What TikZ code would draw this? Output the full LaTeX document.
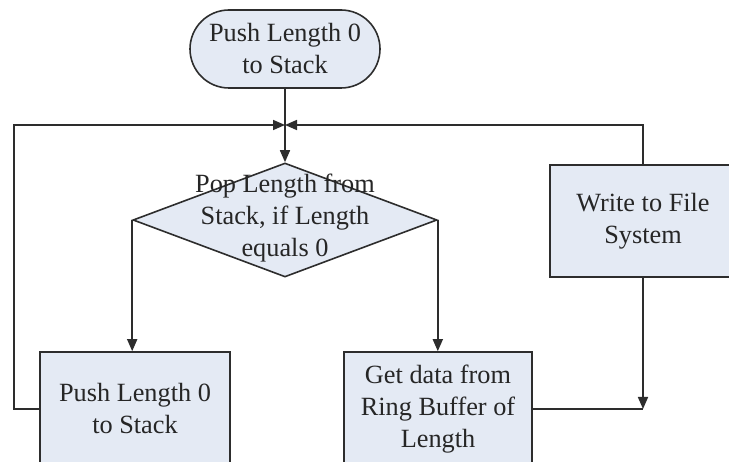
\documentclass[tikz,border=0pt]{standalone}
\usepackage{fontspec}
\setmainfont{Liberation Serif}
\usetikzlibrary{shapes.geometric,arrows.meta}
\definecolor{boxfill}{RGB}{228,234,244}
\definecolor{edge}{RGB}{45,45,45}
\tikzset{
  base/.style={draw=edge, line width=1.6pt, fill=boxfill, inner sep=0pt,
    align=center, font=\fontsize{26.3}{32}\selectfont, text=black!85},
  terminal/.style={base, rectangle, rounded corners=39pt, minimum width=190pt, minimum height=78pt},
  process/.style={base, rectangle, minimum width=190pt, minimum height=114pt},
  decision/.style={base, diamond, minimum width=304pt, minimum height=114pt},
  label/.style={align=center, font=\fontsize{26.3}{32}\selectfont, text=black!85, inner sep=0pt},
  flow/.style={draw=edge, line width=1.6pt, -{Triangle[length=12pt,width=10pt]}},
  line/.style={draw=edge, line width=1.6pt}
}
\begin{document}
\begin{tikzpicture}[x=1pt,y=-1pt]
\useasboundingbox (0,0) rectangle (729,462);
\clip (0,0) rectangle (729,462);
\fill[white] (0,0) rectangle (729,462);

% blocks
\node[terminal] (start) at (285,49) {Push Length 0\\to Stack};
\node[decision] (dec) at (285,220) {};
\node[label] (dectext) at (285,218) {Pop Length from\\Stack, if Length\\equals 0};
\node[process] (push) at (135,409) {Push Length 0\\to Stack};
\node[process, minimum width=188pt] (get) at (438,409) {Get data from\\Ring Buffer of\\Length};
\node[process, minimum width=186pt, minimum height=112pt] (write) at (643,221) {Write to File\\System};

% merge point above the decision
\coordinate (j) at (285,125);

% connectors
\draw[flow] (start) -- (dec.north);
\draw[flow] (dec.west) -- (dec.west |- push.north);
\draw[flow] (dec.east) -- (dec.east |- get.north);
\draw[flow] (push.west) -- ++(-25,0) |- (j);
\draw[flow] (write.north) |- (j);
\draw[line] (get.east) -- (write.south |- get.east);
\draw[flow] (write.south) -- (write.south |- get.east);
\end{tikzpicture}
\end{document}
